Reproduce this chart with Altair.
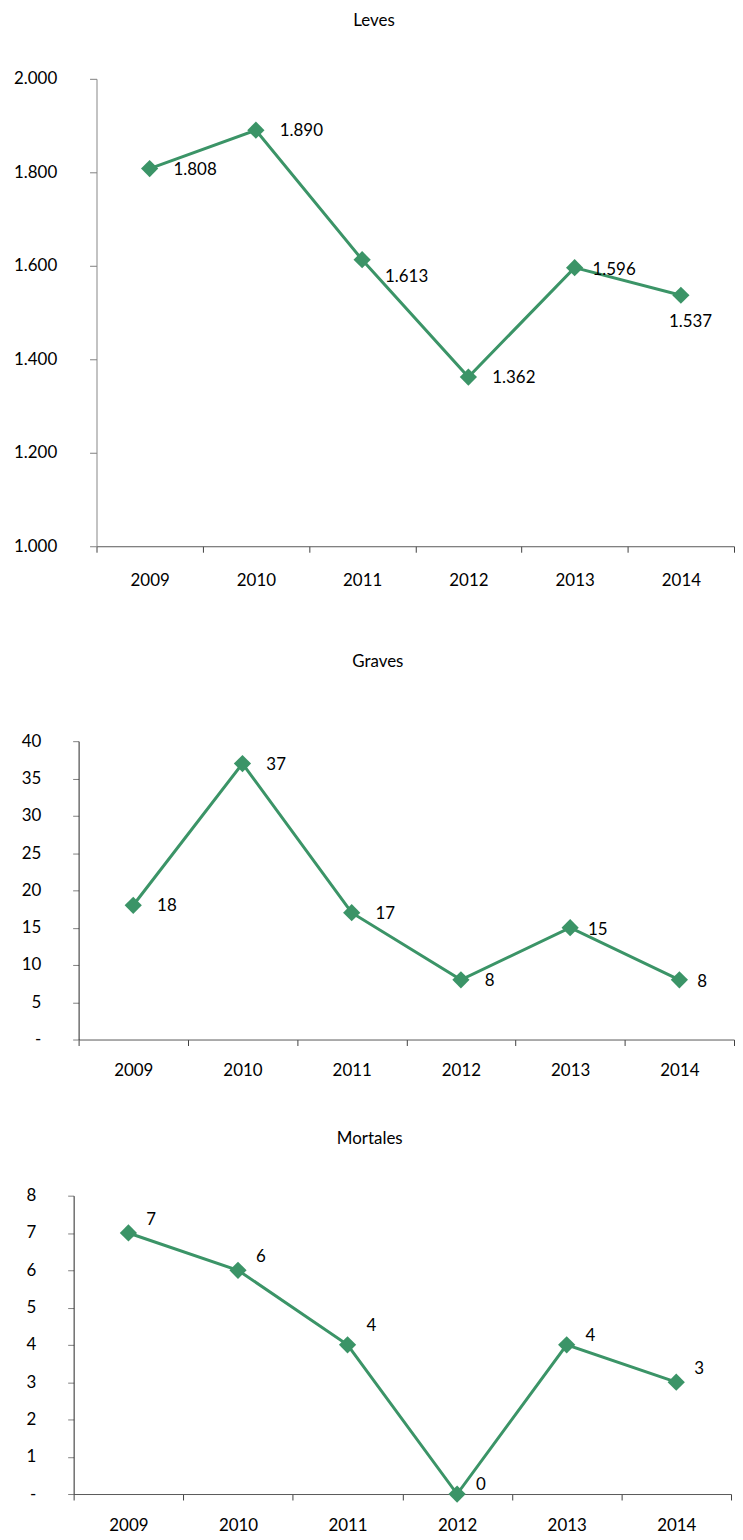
import altair as alt
import pandas as pd

# ---- data ----
years = ["2009", "2010", "2011", "2012", "2013", "2014"]
leves = [1808, 1890, 1613, 1362, 1596, 1537]
graves = [18, 37, 17, 8, 15, 8]
mortales = [7, 6, 4, 0, 4, 3]

leves_ticks = [1000, 1200, 1400, 1600, 1800, 2000]
graves_ticks = [0, 5, 10, 15, 20, 25, 30, 35, 40]
mortales_ticks = [0, 1, 2, 3, 4, 5, 6, 7, 8]

# label placement names per point
leves_pos = ["r", "r", "br", "r", "rc", "b"]
graves_pos = ["r", "r", "r", "r", "rc", "rc"]
mortales_pos = ["ar", "ar", "ar_hi", "ar_lo", "ar_lo", "ar"]

# ---- style ----
FONT = "Lato"
FS = 17
GREEN = "#3B9467"
OFFSETS = {
    "r": (24, 1),
    "rc": (18, 2),
    "br": (23, 17),
    "b": (-12, 27),
    "ar": (18, -13),
    "ar_hi": (19, -19),
    "ar_lo": (19, -9),
}
NB = "\u00a0" * 7


def fmt(v):
    return f"{v:,}".replace(",", ".")


def panel(title, values, pos, ticks, width, x0, height, x_ext, title_offset,
          y_label_expr, y_tick, y_pad, x_pad, y_dom_color, y_ext=None):
    df = pd.DataFrame({"year": years, "value": values,
                       "label": [fmt(v) for v in values], "pos": pos})
    yaxis_kw = dict(title=None, values=ticks, labelExpr=y_label_expr,
                    tickSize=y_tick, labelPadding=y_pad, grid=False,
                    domainColor=y_dom_color, tickColor="#808080",
                    labelBaseline="middle", offset=-x0)
    if y_ext is not None:
        yaxis_kw.update(minExtent=y_ext, maxExtent=y_ext)
    base = alt.Chart(df).encode(
        x=alt.X("year:N", sort=years,
                scale=alt.Scale(type="band", paddingInner=0, paddingOuter=0,
                                range=[x0, width]),
                axis=alt.Axis(title=None, tickBand="extent", labelAngle=0,
                              tickSize=6, labelPadding=x_pad, grid=False,
                              domainColor="#595959", tickColor="#404040",
                              minExtent=x_ext, maxExtent=x_ext)),
        y=alt.Y("value:Q",
                scale=alt.Scale(domain=[ticks[0], ticks[-1]], nice=False, zero=False),
                axis=alt.Axis(**yaxis_kw)),
    )
    line = base.mark_line(color=GREEN, strokeWidth=3)
    pts = base.mark_point(shape="diamond", filled=True, size=300, color=GREEN, opacity=1)
    texts = []
    for p, (dx, dy) in OFFSETS.items():
        if p in pos:
            texts.append(
                base.transform_filter(alt.datum.pos == p)
                .mark_text(align="left", baseline="middle", dx=dx, dy=dy,
                           font=FONT, fontSize=FS, color="black")
                .encode(text="label:N")
            )
    return alt.layer(line, pts, *texts).properties(
        width=width, height=height,
        title=alt.TitleParams(title, offset=title_offset, fontSize=FS, font=FONT,
                              fontWeight="normal", anchor="middle", frame="bounds",
                              color="black"),
    )


ZERO = "datum.value == 0 ? '-" + NB + "' : datum.label"
p1 = panel("Leves", leves, leves_pos, leves_ticks, 664, 23, 470, 67, 40,
           "replace(format(datum.value, ','), ',', '.')", 7, 33, 20, "#868686")
p2 = panel("Graves", graves, graves_pos, graves_ticks, 664, 5, 300, 51, 62,
           ZERO, 6, 32, 17, "#262626")
p3 = panel("Mortales", mortales, mortales_pos, mortales_ticks, 661, 0, 300, 40, 39,
           ZERO, 6, 32, 18, "#262626", y_ext=66)

chart = alt.concat(p1, p2, p3, columns=1, spacing=40).properties(
    padding=0
).configure_view(stroke=None).configure_axis(
    labelFont=FONT, labelFontSize=FS, labelColor="black"
)

chart.save("out.html", embed_options={"renderer": "svg", "actions": False})
